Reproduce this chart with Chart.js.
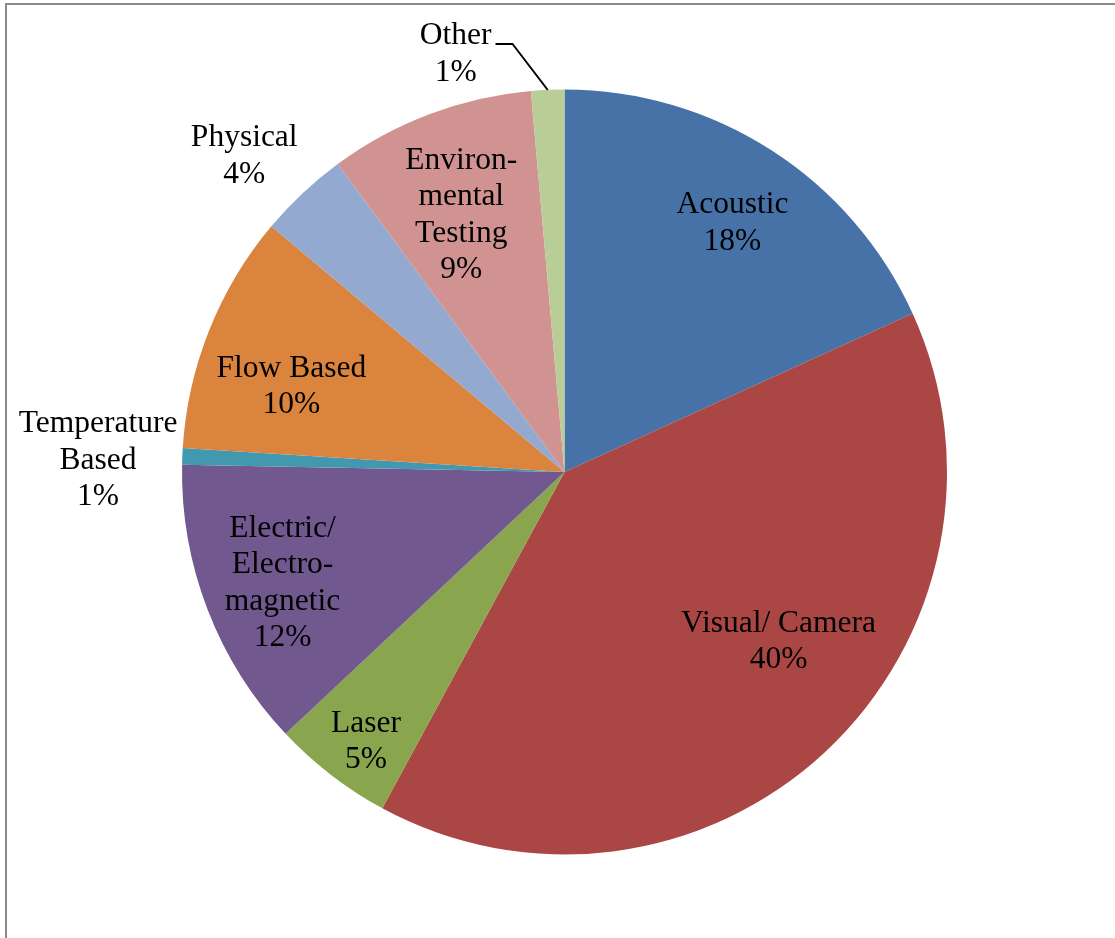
<!DOCTYPE html>
<html>
<head>
<meta charset="utf-8">
<script src="https://cdn.jsdelivr.net/npm/chart.js@4"></script>
<style>
  html, body { margin: 0; padding: 0; background: #fff; }
  #wrap { width: 1115px; height: 938px; }
</style>
</head>
<body>
<div id="wrap"><canvas id="sensorPie"></canvas></div>
<script>
// Share of sensing methods
const categories = ['Acoustic', 'Visual/ Camera', 'Laser', 'Electric/ Electromagnetic',
    'Temperature Based', 'Flow Based', 'Physical', 'Environmental Testing', 'Other'];
const labelLines = [
    ['Acoustic'], ['Visual/ Camera'], ['Laser'], ['Electric/', 'Electro-', 'magnetic'],
    ['Temperature', 'Based'], ['Flow Based'], ['Physical'], ['Environ-', 'mental', 'Testing'], ['Other']
];
const shares = [18.2, 39.7, 5.1, 12.3, 0.7, 10.1, 3.8, 8.7, 1.4];
const sliceColors = ['#4672A8', '#AA4644', '#89A54E', '#71588F', '#4198AF',
    '#DB843D', '#93A9CF', '#D19392', '#B9CD96'];

// label placement: angle shift from slice middle (deg) and distance as fraction of radius
const labelPlacement = [
    [1, 0.79], [-9, 0.71], [-1, 0.87], [0, 0.79], [-0.6, 1.22],
    [-4, 0.75], [-2, 1.18], [-1, 0.73], [-12, 1.135]
];
const leaderFor = [8]; // slices whose label gets a leader line

const FONT = '31.5px "Liberation Serif", "Times New Roman", serif';
const LINE_H = 36.5;
const TEXT_DY = 2.5;

const framePlugin = {
    id: 'frame',
    beforeDraw(chart) {
        const c = chart.ctx;
        c.save();
        c.strokeStyle = '#8a8a8a';
        c.lineWidth = 2;
        c.beginPath();
        c.moveTo(6, chart.height);
        c.lineTo(6, 4);
        c.lineTo(chart.width, 4);
        c.stroke();
        c.restore();
    }
};

const sliceLabels = {
    id: 'sliceLabels',
    afterDatasetsDraw(chart) {
        const c = chart.ctx;
        const meta = chart.getDatasetMeta(0);
        const total = shares.reduce((a, b) => a + b, 0);
        c.save();
        c.font = FONT;
        c.fillStyle = '#000';
        c.textAlign = 'center';
        c.textBaseline = 'middle';
        meta.data.forEach((arc, i) => {
            const p = arc.getProps(['x', 'y', 'startAngle', 'endAngle', 'outerRadius'], true);
            const mid = (p.startAngle + p.endAngle) / 2;
            const ang = mid + labelPlacement[i][0] * Math.PI / 180;
            const r = p.outerRadius * labelPlacement[i][1];
            const lx = p.x + Math.cos(ang) * r;
            const ly = p.y + Math.sin(ang) * r + TEXT_DY;
            const lines = labelLines[i].concat([Math.round(shares[i] / total * 100) + '%']);
            const top = ly - (lines.length - 1) * LINE_H / 2;
            lines.forEach((t, k) => c.fillText(t, lx, top + k * LINE_H));

            if (leaderFor.includes(i)) {
                const w = c.measureText(lines[0]).width;
                const sx = lx + w / 2 + 4;
                const sy = top + 8;
                const ex = p.x + Math.cos(mid) * p.outerRadius;
                const ey = p.y + Math.sin(mid) * p.outerRadius;
                c.strokeStyle = '#000';
                c.lineWidth = 1.8;
                c.beginPath();
                c.moveTo(sx, sy);
                c.lineTo(sx + 17, sy);
                c.lineTo(ex, ey);
                c.stroke();
            }
        });
        c.restore();
    }
};

new Chart(document.getElementById('sensorPie'), {
    type: 'pie',
    data: {
        labels: categories,
        datasets: [{
            data: shares,
            backgroundColor: sliceColors,
            borderWidth: 0
        }]
    },
    options: {
        responsive: true,
        maintainAspectRatio: false,
        animation: false,
        layout: { padding: { left: 182, right: 168, top: 89, bottom: 83 } },
        plugins: {
            legend: { display: false },
            tooltip: { enabled: false }
        }
    },
    plugins: [framePlugin, sliceLabels]
});
</script>
</body>
</html>
